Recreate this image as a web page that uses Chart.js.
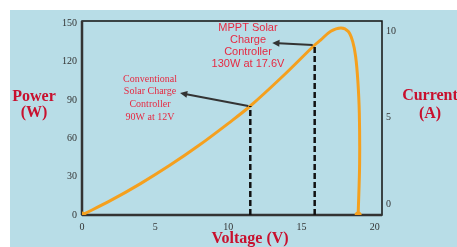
<!DOCTYPE html>
<html>
<head>
<meta charset="utf-8">
<script src="https://cdn.jsdelivr.net/npm/chart.js@4"></script>
<style>
  html, body { margin: 0; padding: 0; background: #fff; }
  #wrap { width: 457px; height: 247px; }
</style>
</head>
<body>
<div id="wrap"><canvas id="pvChart" width="457" height="247"></canvas></div>
<script>
const voltage = [0, 2, 4, 6, 8, 10, 11.5, 13.7, 15.9, 16.3, 17.0, 17.7, 18.2, 18.5, 18.7, 18.85, 18.95, 18.97, 18.87];
const power   = [0, 11.6, 24.6, 38.9, 54.6, 71.8, 85.4, 108.5, 133.2, 137, 144, 146.6, 143.7, 135.8, 124, 105, 80, 40, 0];

const xTicks = [0, 5, 10, 15, 20];
const powerTicks = [0, 30, 60, 90, 120, 150];
const currentTicks = [0, 5, 10];

// operating points (conventional, MPPT) and where their arrows point
const markerVoltage = [11.5, 15.9];
const markerPower = [85.4, 133.2];
const arrowTipVoltage = [6.7, 13.0];
const arrowTipPower = [95.6, 134.8];

const noteLines = [
  ["Conventional", "Solar Charge", "Controller", "90W at 12V"],
  ["MPPT Solar", "Charge", "Controller", "130W at 17.6V"]
];

const orange = "#f5a01e";
const red = "#c8102e";
const noteRed = "#e62a42";

const decorations = {
  id: "decorations",
  beforeDraw(chart) {
    const c = chart.ctx;
    c.save();
    c.fillStyle = "#fff";
    c.fillRect(0, 0, chart.width, chart.height);
    c.fillStyle = "#b8dde7";
    c.fillRect(10, 10, chart.width - 10, chart.height - 10);
    c.restore();
  },
  beforeDatasetsDraw(chart) {
    const c = chart.ctx;
    const a = chart.chartArea;
    c.save();
    c.strokeStyle = "#111";
    c.lineWidth = 1.5;
    c.strokeRect(a.left, a.top, a.right - a.left, a.bottom - a.top);
    c.strokeStyle = "#333";
    c.lineWidth = 2.5;
    c.beginPath();
    c.moveTo(a.left, a.bottom);
    c.lineTo(a.right, a.bottom);
    c.moveTo(a.left, a.top);
    c.lineTo(a.left, a.bottom);
    c.stroke();
    c.restore();
  },
  afterDatasetsDraw(chart) {
    const c = chart.ctx;
    const xs = chart.scales.x, ys = chart.scales.y;
    c.save();
    // arrows
    c.strokeStyle = "#333";
    c.fillStyle = "#333";
    c.lineWidth = 2;
    markerVoltage.forEach((v, i) => {
      const x0 = xs.getPixelForValue(v) - 2, y0 = ys.getPixelForValue(markerPower[i]);
      const x1 = xs.getPixelForValue(arrowTipVoltage[i]), y1 = ys.getPixelForValue(arrowTipPower[i]);
      const ang = Math.atan2(y1 - y0, x1 - x0);
      const head = 8;
      c.beginPath();
      c.moveTo(x0, y0);
      c.lineTo(x1 - Math.cos(ang) * head * 0.8, y1 - Math.sin(ang) * head * 0.8);
      c.stroke();
      c.beginPath();
      c.moveTo(x1, y1);
      c.lineTo(x1 - Math.cos(ang - 0.45) * head, y1 - Math.sin(ang - 0.45) * head);
      c.lineTo(x1 - Math.cos(ang + 0.45) * head, y1 - Math.sin(ang + 0.45) * head);
      c.closePath();
      c.fill();
    });
    // notes
    c.fillStyle = noteRed;
    c.textAlign = "center";
    c.textBaseline = "middle";
    c.font = "10px 'Liberation Serif'";
    noteLines[0].forEach((t, i) => c.fillText(t, 150, 79 + i * 12.7));
    c.font = "11px 'Liberation Sans'";
    noteLines[1].forEach((t, i) => c.fillText(t, 248, 28 + i * 12));
    c.restore();
  },
  afterDraw(chart) {
    const c = chart.ctx;
    c.save();
    c.fillStyle = red;
    c.textAlign = "center";
    c.textBaseline = "middle";
    c.font = "bold 16px 'Liberation Serif'";
    c.fillText("Power", 34, 97);
    c.fillText("(W)", 34, 113);
    c.fillText("Current", 430, 96);
    c.fillText("(A)", 430, 114);
    c.fillText("Voltage (V)", 250, 239);
    c.restore();
  }
};

const tickFont = { family: "'Liberation Serif'", size: 10 };

new Chart(document.getElementById("pvChart"), {
  type: "scatter",
  data: {
    datasets: [
      ...markerVoltage.map((v, i) => ({
        data: [{ x: v, y: 0 }, { x: v, y: markerPower[i] }],
        showLine: true,
        borderColor: "#111",
        borderWidth: 2.5,
        borderDash: [6, 3],
        pointRadius: 0,
        yAxisID: "y"
      })),
      {
        data: voltage.map((v, i) => ({ x: v, y: power[i] })),
        showLine: true,
        borderColor: orange,
        borderWidth: 3,
        tension: 0.35,
        pointRadius: voltage.map((v, i) => (i === 0 || i === voltage.length - 1) ? 3.5 : 0),
        pointBackgroundColor: orange,
        pointBorderWidth: 0,
        yAxisID: "y"
      }
    ]
  },
  options: {
    responsive: false,
    animation: false,
    layout: { padding: { top: 21, left: 0, right: 0, bottom: 0 } },
    plugins: {
      legend: { display: false },
      tooltip: { enabled: false }
    },
    scales: {
      x: {
        type: "linear",
        min: 0,
        max: 20.5,
        afterBuildTicks: s => { s.ticks = xTicks.map(v => ({ value: v })); },
        afterFit: s => { s.height = 32; },
        grid: { display: false, drawTicks: false },
        border: { display: false },
        ticks: { font: tickFont, color: "#333", padding: 6 }
      },
      y: {
        position: "left",
        min: 0,
        max: 152,
        afterBuildTicks: s => { s.ticks = powerTicks.map(v => ({ value: v })); },
        afterFit: s => { s.width = 82; },
        grid: { display: false, drawTicks: false },
        border: { display: false },
        ticks: { font: tickFont, color: "#333", padding: 5 }
      },
      y1: {
        position: "right",
        min: -0.64,
        max: 10.58,
        afterBuildTicks: s => { s.ticks = currentTicks.map(v => ({ value: v })); },
        afterFit: s => { s.width = 75; },
        grid: { display: false, drawTicks: false },
        border: { display: false },
        ticks: { font: tickFont, color: "#333", padding: 4 }
      }
    }
  },
  plugins: [decorations]
});
</script>
</body>
</html>
